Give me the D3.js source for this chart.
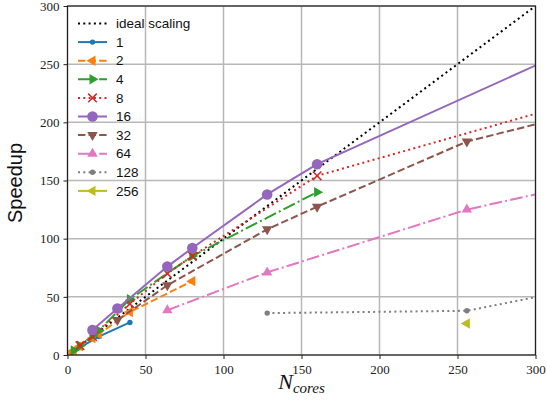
<!DOCTYPE html>
<html>
<head>
<meta charset="utf-8">
<script src="https://cdn.jsdelivr.net/npm/d3@7"></script>
<style>
  body { margin: 0; background: #fff; }
  svg { display: block; }
</style>
</head>
<body>
<div id="chart"></div>
<script>
// ---- data ----
const seriesNames = ['1', '2', '4', '8', '16', '32', '64', '128', '256'];
const cores1 = [1, 2, 4, 8, 20, 40];
const speed1 = [1, 1.9, 3.6, 6.5, 15.8, 28];
const cores2 = [2, 4, 8, 16, 20, 40, 80];
const speed2 = [1.9, 3.8, 7.5, 14.5, 18, 37, 63.5];
const cores4 = [4, 8, 16, 20, 40, 80, 160];
const speed4 = [4, 8, 16.5, 21, 48, 85, 140];
const cores8 = [8, 16, 40, 64, 80, 160, 320];
const speed8 = [8, 16, 44, 70, 85, 154, 215];
const cores16 = [16, 32, 64, 80, 128, 160, 320];
const speed16 = [21.5, 40, 76, 92, 138, 164, 261];
const cores32 = [32, 64, 128, 160, 256, 320];
const speed32 = [30, 60, 108, 127.5, 183.5, 205];
const cores64 = [64, 128, 256, 320];
const speed64 = [38.5, 71, 125, 144];
const cores128 = [128, 256, 320];
const speed128 = [36, 38, 55];
const cores256 = [256];
const speed256 = [27];
const xTicks = [0, 50, 100, 150, 200, 250, 300];
const yTicks = [0, 50, 100, 150, 200, 250, 300];

const coresAll = [cores1, cores2, cores4, cores8, cores16, cores32, cores64, cores128, cores256];
const speedAll = [speed1, speed2, speed4, speed8, speed16, speed32, speed64, speed128, speed256];

// ---- styles ----
const colors = ['#1f77b4', '#ff7f0e', '#2ca02c', '#d62728', '#9467bd', '#8c564b', '#e377c2', '#7f7f7f', '#bcbd22'];
const LW = 2;
const DOT = '2,3.3';
const DASH = '7.4,3.2';
const DASHDOT = '12.8,3.2,2,3.2';
const dashes = [null, DASH, DASHDOT, DOT, null, DASH, DASHDOT, DOT, null];
const markers = ['dot', 'left', 'right', 'x', 'circle', 'down', 'up', 'dot', 'left'];

const W = 547, H = 406;
const margin = { left: 67.5, right: 11.5, top: 6, bottom: 51 };
const iw = W - margin.left - margin.right;
const ih = H - margin.top - margin.bottom;

const svg = d3.select('#chart').append('svg')
  .attr('width', W).attr('height', H);

const x = d3.scaleLinear().domain([0, 300]).range([0, iw]);
const y = d3.scaleLinear().domain([0, 300]).range([ih, 0]);

const g = svg.append('g').attr('transform', `translate(${margin.left},${margin.top})`);

svg.append('defs').append('clipPath').attr('id', 'clip')
  .append('rect').attr('width', iw).attr('height', ih);

// grid
g.append('g').selectAll('line').data(xTicks).join('line')
  .attr('x1', d => x(d)).attr('x2', d => x(d)).attr('y1', 0).attr('y2', ih)
  .attr('stroke', '#b8b8b8').attr('stroke-width', 1.5);
g.append('g').selectAll('line').data(yTicks).join('line')
  .attr('y1', d => y(d)).attr('y2', d => y(d)).attr('x1', 0).attr('x2', iw)
  .attr('stroke', '#b8b8b8').attr('stroke-width', 1.5);

// axes
const xAxis = g.append('g').attr('transform', `translate(0,${ih})`)
  .call(d3.axisBottom(x).tickValues(xTicks).tickSize(4).tickPadding(4));
const yAxis = g.append('g')
  .call(d3.axisLeft(y).tickValues(yTicks).tickSize(4).tickPadding(4));
[xAxis, yAxis].forEach(a => {
  a.select('.domain').remove();
  a.selectAll('.tick line').attr('stroke', '#222').attr('stroke-width', 1);
  a.selectAll('.tick text').attr('font-family', '"Liberation Serif", serif')
    .attr('font-size', 13).attr('fill', '#222');
});
xAxis.selectAll('.tick text').attr('dy', '0.85em');

// marker drawing
function drawMarker(sel, type, color) {
  if (type === 'dot') {
    sel.append('circle').attr('r', 2.7).attr('fill', color);
  } else if (type === 'circle') {
    sel.append('circle').attr('r', 5.3).attr('fill', color);
  } else if (type === 'x') {
    const r = 4.3;
    sel.append('path').attr('d', `M${-r},${-r}L${r},${r}M${-r},${r}L${r},${-r}`)
      .attr('stroke', color).attr('stroke-width', 1.5).attr('fill', 'none');
  } else {
    const r = 6;
    const tri = {
      up: `M0,${-r}L${r * 0.87},${r * 0.5}L${-r * 0.87},${r * 0.5}Z`,
      down: `M0,${r}L${r * 0.87},${-r * 0.5}L${-r * 0.87},${-r * 0.5}Z`,
      left: `M${-r},0L${r * 0.5},${-r * 0.87}L${r * 0.5},${r * 0.87}Z`,
      right: `M${r},0L${-r * 0.5},${-r * 0.87}L${-r * 0.5},${r * 0.87}Z`
    }[type];
    sel.append('path').attr('d', tri).attr('fill', color);
  }
}

const plot = g.append('g').attr('clip-path', 'url(#clip)');

// ideal scaling
const line = d3.line().x(d => x(d[0])).y(d => y(d[1]));
plot.append('path').datum([[0, 0], [300, 300]])
  .attr('d', line).attr('fill', 'none')
  .attr('stroke', '#000').attr('stroke-width', LW).attr('stroke-dasharray', DOT);

// series
seriesNames.forEach((name, i) => {
  const pts = coresAll[i].map((c, j) => [c, speedAll[i][j]]);
  plot.append('path').datum(pts)
    .attr('d', line).attr('fill', 'none')
    .attr('stroke', colors[i]).attr('stroke-width', LW)
    .attr('stroke-dasharray', dashes[i]);
  pts.forEach(p => {
    const m = plot.append('g').attr('transform', `translate(${x(p[0])},${y(p[1])})`);
    drawMarker(m, markers[i], colors[i]);
  });
});

// frame
g.append('rect').attr('width', iw).attr('height', ih)
  .attr('fill', 'none').attr('stroke', '#222').attr('stroke-width', 1.2);

// legend
const legend = g.append('g').attr('transform', 'translate(10.5,17.5)');
const legendItems = ['ideal scaling'].concat(seriesNames);
legendItems.forEach((lab, k) => {
  const row = legend.append('g').attr('transform', `translate(0,${k * 18.6})`);
  const isIdeal = k === 0;
  const color = isIdeal ? '#000' : colors[k - 1];
  row.append('line').attr('x1', 0).attr('x2', 29).attr('y1', 0).attr('y2', 0)
    .attr('stroke', color).attr('stroke-width', LW)
    .attr('stroke-dasharray', isIdeal ? DOT : dashes[k - 1]);
  if (!isIdeal) {
    const m = row.append('g').attr('transform', 'translate(14.5,0)');
    drawMarker(m, markers[k - 1], color);
  }
  row.append('text').attr('x', 38).attr('y', 0).attr('dy', '0.35em')
    .attr('font-family', '"Liberation Sans", Arial, sans-serif')
    .attr('font-size', 13.5).attr('fill', '#111').text(lab);
});

// axis labels
svg.append('text')
  .attr('transform', `translate(22,183) rotate(-90)`)
  .attr('text-anchor', 'middle')
  .attr('font-family', '"Liberation Sans", Arial, sans-serif')
  .attr('font-size', 20).attr('fill', '#111').text('Speedup');

const xl = svg.append('text')
  .attr('x', margin.left + iw / 2).attr('y', 389)
  .attr('text-anchor', 'middle')
  .attr('font-family', '"Liberation Serif", serif').attr('font-style', 'italic')
  .attr('fill', '#111');
xl.append('tspan').attr('font-size', 22).text('N');
xl.append('tspan').attr('font-size', 15).attr('dy', 4).text('cores');
</script>
</body>
</html>
